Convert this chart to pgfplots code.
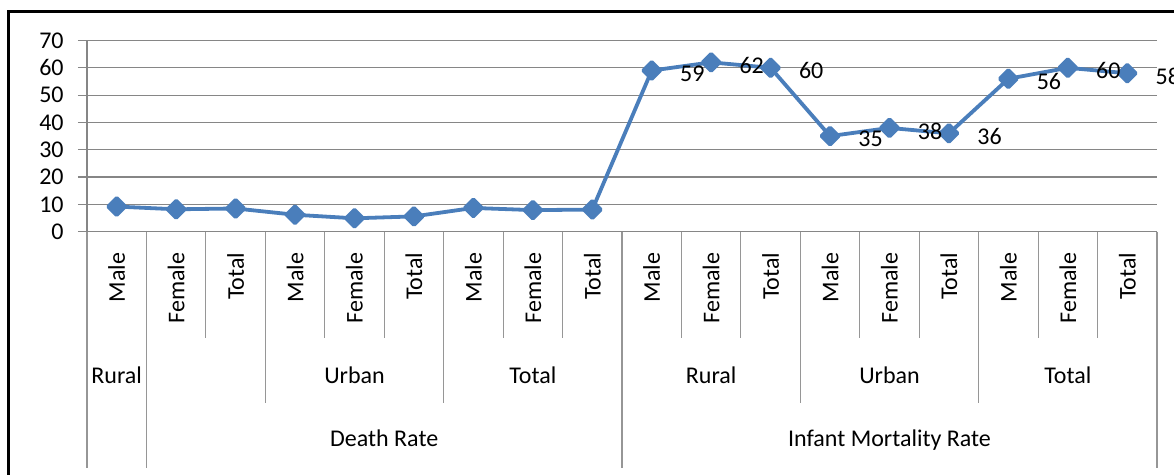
\documentclass[border=0pt]{standalone}
\usepackage{pgfplots}
\pgfplotsset{compat=1.18}
\usepackage{fontspec}
\setmainfont{Carlito}
\definecolor{serieblue}{RGB}{74,126,187}
\definecolor{gridgray}{RGB}{134,134,134}
\definecolor{divgray}{RGB}{150,150,150}

\begin{document}
\fontsize{12}{14}\selectfont
\begin{tikzpicture}
\begin{axis}[
  at={(0pt,0pt)}, anchor=south west,
  scale only axis, width=535pt, height=95.6pt,
  xmin=0, xmax=18, ymin=0, ymax=70,
  ytick={0,10,...,70}, xtick=\empty,
  axis x line*=bottom, axis y line*=left,
  axis line style={gridgray, line width=0.6pt, -},
  ymajorgrids, grid style={gridgray, line width=0.6pt},
  tick align=outside, major tick length=4.5pt,
  ytick style={gridgray, line width=0.6pt},
  yticklabel style={text=black, xshift=-3pt},
  /pgf/number format/assume math mode=true,
  clip=false,
]
% Death rate (9 points) followed by infant mortality rate (9 points)
\addplot[serieblue, line width=1.9pt, line join=round,
  mark=square*, mark size=3pt, mark options={rotate=45, solid}]
  coordinates {
   (0.5,9.2) (1.5,8.2) (2.5,8.5) (3.5,6.2) (4.5,4.9) (5.5,5.6)
   (6.5,8.7) (7.5,7.9) (8.5,8.1)
   (9.5,59) (10.5,62) (11.5,60) (12.5,35) (13.5,38) (14.5,36)
   (15.5,56) (16.5,60) (17.5,58)
  };
% value labels for the infant mortality rate
\addplot[draw=none, mark=none, point meta=y,
  nodes near coords, nodes near coords style={anchor=west, xshift=10pt, yshift=-1.5pt, text=black}]
  coordinates {
   (9.5,59) (10.5,62) (11.5,60) (12.5,35) (13.5,38) (14.5,36)
   (15.5,56) (16.5,60) (17.5,58)
  };
% category dividers below the axis
\pgfplotsinvokeforeach{0,1,9,18}{\draw[divgray, line width=0.6pt] (axis cs:#1,0) -- (axis cs:#1,-86.6);}
\pgfplotsinvokeforeach{3,6,12,15}{\draw[divgray, line width=0.6pt] (axis cs:#1,0) -- (axis cs:#1,-62.8);}
\pgfplotsinvokeforeach{2,4,5,7,8,10,11,13,14,16,17}{\draw[divgray, line width=0.6pt] (axis cs:#1,0) -- (axis cs:#1,-38.9);}
% first level: sex
\pgfplotsinvokeforeach{0.5,3.5,6.5,9.5,12.5,15.5}{\node[rotate=90, anchor=east, inner sep=0pt] at (axis cs:#1,-7.6) {Male};}
\pgfplotsinvokeforeach{1.5,4.5,7.5,10.5,13.5,16.5}{\node[rotate=90, anchor=east, inner sep=0pt] at (axis cs:#1,-7.6) {Female};}
\pgfplotsinvokeforeach{2.5,5.5,8.5,11.5,14.5,17.5}{\node[rotate=90, anchor=east, inner sep=0pt] at (axis cs:#1,-7.6) {Total};}
% second level: area
\node[anchor=base, inner sep=0pt] at (axis cs:0.5,-55.4) {Rural};
\node[anchor=base, inner sep=0pt] at (axis cs:4.5,-55.4) {Urban};
\node[anchor=base, inner sep=0pt] at (axis cs:7.5,-55.4) {Total};
\node[anchor=base, inner sep=0pt] at (axis cs:10.5,-55.4) {Rural};
\node[anchor=base, inner sep=0pt] at (axis cs:13.5,-55.4) {Urban};
\node[anchor=base, inner sep=0pt] at (axis cs:16.5,-55.4) {Total};
% third level: indicator
\node[anchor=base, inner sep=0pt] at (axis cs:5,-78.8) {Death Rate};
\node[anchor=base, inner sep=0pt] at (axis cs:13.5,-78.8) {Infant Mortality Rate};
\end{axis}
% chart frame (left and top edges)
\draw[line width=1.4pt] (-39.3pt,-130pt) -- (-39.3pt,110.15pt) -- (560pt,110.15pt);
\pgfresetboundingbox
\useasboundingbox (-43.5pt,-121.65pt) rectangle (543.5pt,115.85pt);
\end{tikzpicture}
\end{document}
